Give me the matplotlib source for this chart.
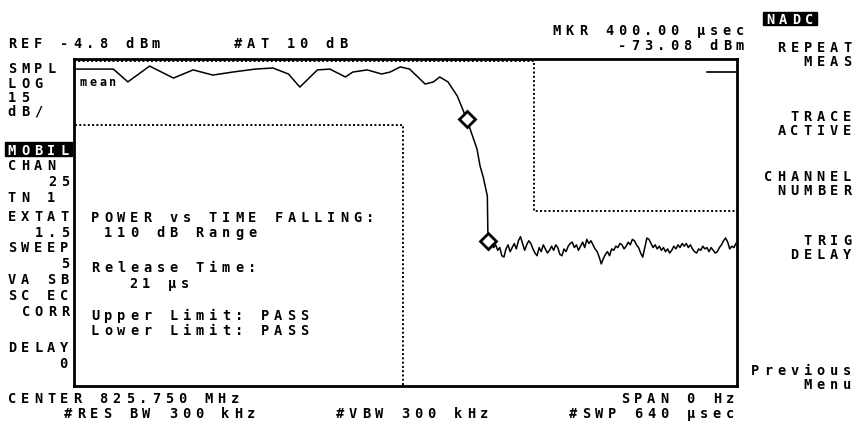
import matplotlib
matplotlib.use("Agg")
import matplotlib.pyplot as plt
import numpy as np
from matplotlib.patches import Rectangle

W, H = 858, 435

# screen settings: 640 usec sweep, REF -4.8 dBm, 15 dB/div, 8 divisions
sweep_us = 640
ref_dbm = -4.8
db_per_div = 15
n_div = 8

# burst (mean) trace up to the falling edge
trace_t = [1, 38, 52, 73, 96, 115, 134, 153, 175, 192, 207, 218, 235, 247, 262, 269,
           283, 297, 305, 315, 324, 339, 347, 353, 361, 370, 379, 389, 392, 395, 399, 399.5]
trace_dbm = [-8.5, -8.5, -13.2, -7.4, -11.8, -8.8, -10.7, -9.6, -8.5, -8.1, -10.3, -15.1,
             -8.8, -8.5, -11.4, -9.6, -8.8, -10.3, -9.6, -7.7, -8.5, -14.0, -13.2, -11.4,
             -13.2, -18.4, -26.8, -37.8, -44.1, -48.1, -55.1, -68.3]

# noise floor after the burst (401..639 usec)
floor_dbm = [-71.0, -72.5, -74.0, -73.0, -75.0, -74.0, -77.0, -77.5, -74.5, -73.0,
             -75.5, -74.0, -72.5, -74.5, -71.5, -70.0, -72.5, -75.0, -73.0, -71.5,
             -72.5, -74.5, -76.0, -77.0, -74.0, -75.5, -73.0, -74.5, -76.0, -75.0,
             -73.5, -75.0, -73.0, -74.0, -76.5, -77.0, -74.5, -75.5, -73.5, -72.5,
             -72.0, -74.0, -73.0, -75.0, -73.5, -72.0, -74.0, -71.0, -72.5, -71.5,
             -73.0, -74.5, -75.5, -77.5, -80.0, -78.0, -76.5, -75.5, -77.0, -74.5,
             -75.0, -73.5, -74.0, -72.5, -73.0, -74.5, -73.5, -72.0, -73.0, -71.0,
             -71.5, -73.0, -74.0, -76.0, -77.5, -74.0, -70.5, -71.0, -72.5, -74.0,
             -73.0, -74.5, -73.5, -75.0, -74.0, -75.5, -74.5, -76.0, -75.0, -73.5,
             -74.5, -73.0, -74.0, -72.5, -73.5, -72.5, -74.0, -73.0, -74.5, -75.5,
             -76.0, -74.5, -75.0, -73.5, -74.5, -74.0, -75.5, -74.0, -75.0, -76.0,
             -75.5, -74.0, -73.0, -71.5, -70.5, -72.0, -74.5, -73.5, -74.0, -72.5]
floor_t = np.linspace(401, 639, len(floor_dbm))

# limit masks
upper_t = [0, 444, 444, 640]
upper_dbm = [-5.5, -5.5, -60.6, -60.6]
stub_t = [611, 640]
stub_dbm = [-9.6, -9.6]
lower_t = [1, 318, 318]
lower_dbm = [-29.0, -29.0, -124.8]

marker_t = [379, 400]
marker_dbm = [-26.8, -71.5]

fig = plt.figure(figsize=(W / 100, H / 100), dpi=100)
fig.patch.set_facecolor("white")
ax = fig.add_axes([74 / W, 1 - 387 / H, 663 / W, 327 / H])

t = list(trace_t) + list(floor_t)
y = list(trace_dbm) + list(floor_dbm)
ax.plot(t, y, color="black", lw=1.1)
ax.plot(upper_t, upper_dbm, color="black", lw=1.4, ls=(0, (1, 1.2)))
ax.plot(lower_t, lower_dbm, color="black", lw=1.4, ls=(0, (1, 1.2)))
ax.plot(stub_t, stub_dbm, color="black", lw=1.2)
ax.plot(marker_t, marker_dbm, ls="none", marker="D", ms=8, mfc="white",
        mec="black", mew=2)

ax.set_xlim(0, sweep_us)
ax.set_ylim(ref_dbm - db_per_div * n_div, ref_dbm)
ax.set_xticks([])
ax.set_yticks([])
for s in ax.spines.values():
    s.set_linewidth(2.0)


def crt(x, y, s, right=False, pitch=13.1, size=9.8, color="black"):
    # instrument font: fixed character cells, x = left edge (or right edge), y = baseline
    n = len(s)
    if right:
        x = x - ((n - 1) * pitch + 10)
    for i, ch in enumerate(s):
        if ch == " ":
            continue
        fig.text((x + 5 + i * pitch) / W, 1 - y / H, ch, ha="center", va="baseline",
                 fontsize=size, family="DejaVu Sans Mono", weight="bold", color=color)


def inverse(x0, x1, y0, y1, x, yb, s):
    fig.patches.append(Rectangle((x0 / W, 1 - y1 / H), (x1 - x0) / W, (y1 - y0) / H,
                                 transform=fig.transFigure, color="black"))
    crt(x, yb, s, color="white")


# top line
crt(7, 48, "REF -4.8 dBm")
crt(233, 48, "#AT 10 dB")
crt(745, 35, "MKR 400.00 \u00b5sec", right=True)
crt(745, 50, "-73.08 dBm", right=True)
inverse(763, 817, 13, 26, 765, 24, "NADC")

# softkeys
crt(852, 52, "REPEAT", right=True)
crt(852, 66, "MEAS", right=True)
crt(852, 121, "TRACE", right=True)
crt(852, 135, "ACTIVE", right=True)
crt(852, 181, "CHANNEL", right=True)
crt(852, 195, "NUMBER", right=True)
crt(852, 245, "TRIG", right=True)
crt(852, 259, "DELAY", right=True)
crt(852, 375, "Previous", right=True)
crt(852, 389, "Menu", right=True)

# left annotations
crt(7, 73, "SMPL")
crt(7, 88, "LOG")
crt(7, 102, "15")
crt(7, 116, "dB/")
inverse(5, 72, 143, 157, 7, 155, "MOBIL")
crt(7, 170, "CHAN")
crt(70, 186, "25", right=True)
crt(7, 202, "TN 1")
crt(7, 221, "EXTAT")
crt(70, 237, "1.5", right=True)
crt(7, 252, "SWEEP")
crt(70, 268, "5", right=True)
crt(7, 284, "VA SB")
crt(7, 300, "SC EC")
crt(70, 316, "CORR", right=True)
crt(7, 352, "DELAY")
crt(68, 368, "0", right=True)

# bottom line
crt(7, 403, "CENTER 825.750 MHz")
crt(63, 418, "#RES BW 300 kHz")
crt(335, 418, "#VBW 300 kHz")
crt(735, 403, "SPAN 0 Hz", right=True)
crt(735, 418, "#SWP 640 \u00b5sec", right=True)

# result panel and trace label
crt(78, 86, "mean", pitch=10, size=8.5)
crt(90, 222, "POWER vs TIME FALLING:")
crt(103, 237, "110 dB Range")
crt(90, 272, "Release Time:")
crt(128, 288, "21 \u00b5s")
crt(90, 320, "Upper Limit: PASS")
crt(90, 335, "Lower Limit: PASS")

fig.savefig("out.png", dpi=100, facecolor="white")
